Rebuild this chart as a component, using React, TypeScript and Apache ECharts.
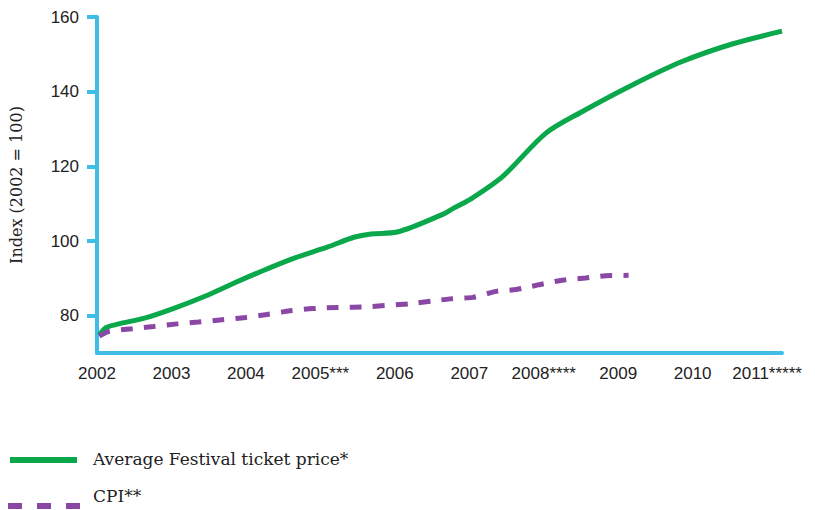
import React, { useEffect, useRef } from "react";
import * as echarts from "echarts";

const yearTicks = [2002, 2003, 2004, 2005, 2006, 2007, 2008, 2009, 2010, 2011];
const yearLabels = ["2002", "2003", "2004", "2005***", "2006", "2007", "2008****", "2009", "2010", "2011*****"];
const indexTicks = [80, 100, 120, 140, 160];

const festivalYears = [2002.03, 2002.12, 2002.25, 2002.65, 2003.05, 2003.45, 2003.85, 2004.21, 2004.65, 2005.1, 2005.45, 2005.68, 2006.03, 2006.65, 2006.79, 2007.04, 2007.45, 2008.03, 2008.52, 2009.19, 2009.85, 2010.52, 2011.2];
const festivalValues = [74.8, 76.8, 77.6, 79.4, 82.1, 85.2, 88.8, 91.9, 95.4, 98.4, 101.0, 101.9, 102.4, 107.2, 108.8, 111.5, 117.3, 128.9, 134.7, 141.8, 148.0, 152.7, 156.2];

const cpiYears = [2002.03, 2002.16, 2002.47, 2002.76, 2003.08, 2003.36, 2003.68, 2003.99, 2004.28, 2004.59, 2004.9, 2005.23, 2005.54, 2006.21, 2006.74, 2007.05, 2007.36, 2007.63, 2007.94, 2008.25, 2008.56, 2008.83, 2009.14];
const cpiValues = [74.5, 75.8, 76.5, 77.1, 77.8, 78.3, 78.9, 79.5, 80.3, 81.3, 81.9, 82.2, 82.3, 83.2, 84.5, 84.9, 86.5, 87.0, 88.3, 89.5, 90.1, 90.7, 90.8];

const seriesNames = ["Average Festival ticket price*", "CPI**"];
const axisName = "Index (2002 = 100)";

const GREEN = "#0aa84a";
const PURPLE = "#8a47a3";
const BLUE = "#3fbde6";

export default function App() {
  const ref = useRef<HTMLDivElement>(null);
  useEffect(() => {
    if (!ref.current) return;
    const chart = echarts.init(ref.current, undefined, { renderer: "svg" });
    const numFont = "Liberation Sans";
    const textFont = "DejaVu Serif";
    chart.setOption({
      animation: false,
      backgroundColor: "#ffffff",
      grid: { left: 91, right: 33, top: 17, bottom: 157, containLabel: false },
      xAxis: {
        type: "value",
        min: 2002,
        max: 2011.2,
        interval: 1,
        splitLine: { show: false },
        axisTick: { show: false },
        axisLine: { show: true, onZero: false, lineStyle: { color: BLUE, width: 4 } },
        axisLabel: {
          margin: 12,
          fontSize: 17,
          fontFamily: numFont,
          color: "#222",
          showMaxLabel: true,
          formatter: (v: number) => {
            const i = yearTicks.indexOf(Math.round(v * 100) / 100);
            return i >= 0 ? yearLabels[i] : "";
          },
        },
      },
      yAxis: {
        type: "value",
        min: 70,
        max: 160,
        interval: 10,
        name: axisName,
        nameLocation: "middle",
        nameGap: 73,
        nameRotate: 90,
        nameTextStyle: { fontFamily: textFont, fontSize: 16, color: "#222" },
        splitLine: { show: false },
        axisLine: { show: true, lineStyle: { color: BLUE, width: 4 } },
        axisTick: {
          show: true,
          length: 10,
          customValues: indexTicks,
          lineStyle: { color: BLUE, width: 4 },
        },
        axisLabel: {
          margin: 18,
          fontSize: 17,
          fontFamily: numFont,
          color: "#222",
          customValues: indexTicks,
        },
      },
      series: [
        {
          name: seriesNames[0],
          type: "line",
          smooth: 0.3,
          showSymbol: false,
          lineStyle: { color: GREEN, width: 5 },
          itemStyle: { color: GREEN },
          data: festivalYears.map((y, i) => [y, festivalValues[i]]),
        },
        {
          name: seriesNames[1],
          type: "line",
          smooth: 0.2,
          showSymbol: false,
          lineStyle: { color: PURPLE, width: 5, type: [12, 11], cap: "butt" },
          itemStyle: { color: PURPLE },
          data: cpiYears.map((y, i) => [y, cpiValues[i]]),
        },
      ],
      graphic: [
        {
          type: "line",
          shape: { x1: 10, y1: 460, x2: 77, y2: 460 },
          style: { stroke: GREEN, lineWidth: 6 },
        },
        {
          type: "text",
          x: 93,
          y: 459,
          style: { text: seriesNames[0], fontFamily: textFont, fontSize: 17, fill: "#222", verticalAlign: "middle" },
        },
        {
          type: "line",
          shape: { x1: 8, y1: 506, x2: 80, y2: 506 },
          style: { stroke: PURPLE, lineWidth: 6, lineDash: [14, 15] },
        },
        {
          type: "text",
          x: 93,
          y: 496,
          style: { text: seriesNames[1], fontFamily: textFont, fontSize: 17, fill: "#222", verticalAlign: "middle" },
        },
      ],
    });
    return () => chart.dispose();
  }, []);
  return <div ref={ref} style={{ width: 815, height: 510, position: "fixed", left: 0, top: 0 }} />;
}
